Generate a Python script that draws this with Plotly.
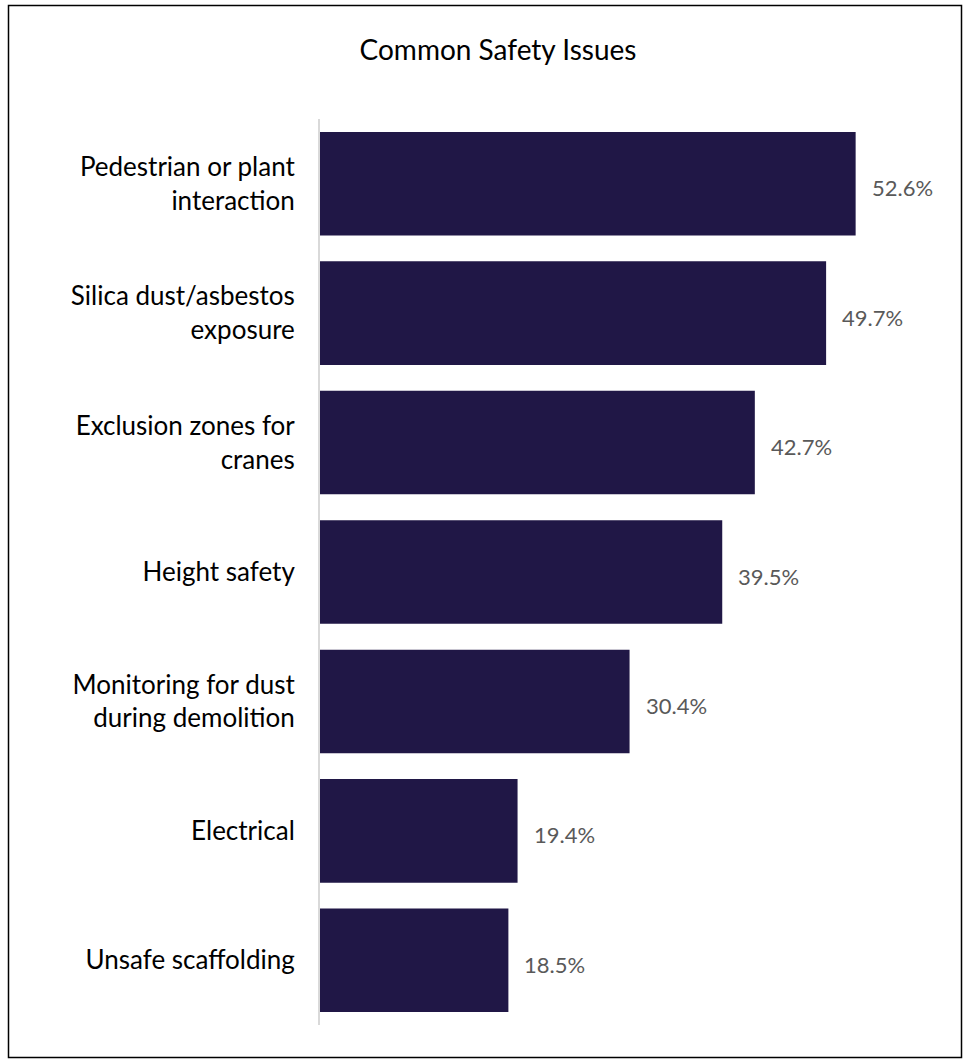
import plotly.graph_objects as go

categories = [
    "Pedestrian or plant<br>interaction",
    "Silica dust/asbestos<br>exposure",
    "Exclusion zones for<br>cranes",
    "Height safety",
    "Monitoring for dust<br>during demolition",
    "Electrical",
    "Unsafe scaffolding",
]
values = [52.6, 49.7, 42.7, 39.5, 30.4, 19.4, 18.5]
title_text = "Common Safety Issues"

BAR_COLOR = "#201746"
FONT = "Lato, Open Sans, sans-serif"

fig = go.Figure()
fig.add_trace(go.Bar(
    x=values, y=categories, orientation="h",
    marker=dict(color=BAR_COLOR, line=dict(width=0)),
    width=0.8, hoverinfo="skip",
))

for c, v in zip(categories, values):
    fig.add_annotation(x=v, y=c, xref="x", yref="y", text=f"{v:.1f}%",
                       showarrow=False, xanchor="left", xshift=14, yshift=-4,
                       font=dict(family=FONT, size=22, color="#595959"))

# outer border
L, R, T, B = 320, 931, 119, 1025
pw, ph = R - L, B - T
def px_x(x): return (x - L) / pw
def px_y(y): return (B - y) / ph
fig.add_shape(type="rect", xref="paper", yref="paper",
              x0=px_x(8.5), x1=px_x(961.5), y0=px_y(1057.5), y1=px_y(5.5),
              line=dict(color="#000000", width=1.5), fillcolor="rgba(0,0,0,0)")

fig.update_layout(
    width=968, height=1064,
    margin=dict(l=L, r=968 - R, t=T, b=1064 - B),
    paper_bgcolor="white", plot_bgcolor="white",
    showlegend=False,
    title=dict(text=title_text, x=498 / 968, xanchor="center", y=1 - 50 / 1064, yanchor="middle",
               font=dict(family=FONT, size=28, color="#000000")),
    font=dict(family=FONT),
)
fig.update_xaxes(range=[0, 60], showgrid=False, showticklabels=False, zeroline=False,
                 showline=False, ticks="")
fig.update_yaxes(autorange="reversed", showgrid=False, ticks="", showline=True,
                 linecolor="#d9d9d9", linewidth=2, ticklabelstandoff=18,
                 tickfont=dict(family=FONT, size=26, color="#000000"))

fig.write_html("out.html", config={"displayModeBar": False},
               post_script="document.body.style.margin='0';document.body.style.overflow='hidden';")
